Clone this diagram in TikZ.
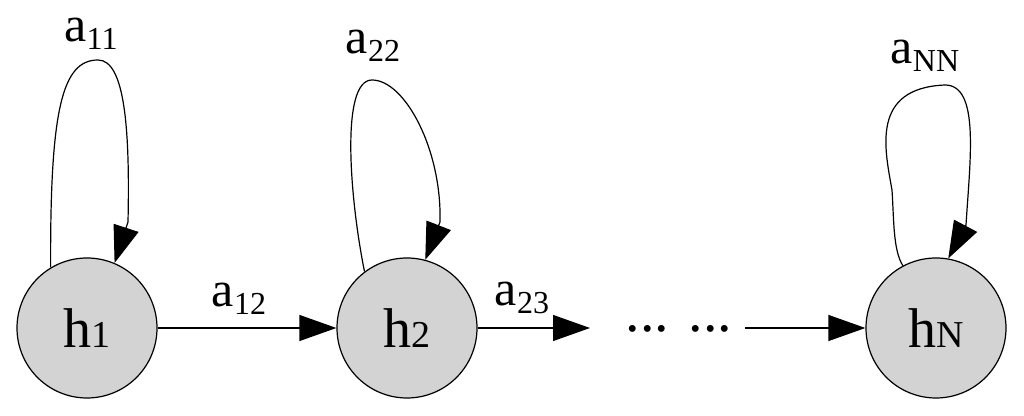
\documentclass[tikz,border=0pt]{standalone}
\usepackage{fontspec}
\setmainfont{Liberation Serif}
\usetikzlibrary{arrows.meta}
\definecolor{stateGray}{RGB}{211,211,211}
\tikzstyle{chain} = [x = .5pt, y = -.5pt]
\tikzstyle{stateStyle} = [circle, draw=black, fill=stateGray, line width=.6pt, minimum size=70pt, inner sep=0pt]
\tikzstyle{edgeStyle} = [line width=.6pt, -{Triangle[length=18.5pt, width=13pt]}]
\newcommand{\stateText}[2]{\fontsize{28}{28}\selectfont #1{\fontsize{19}{19}\selectfont #2}}
\newcommand{\probText}[2]{\fontsize{25}{25}\selectfont #1\raisebox{-4pt}{\fontsize{16}{16}\selectfont #2}}

\begin{document}
\begin{tikzpicture}[chain]
  \useasboundingbox (0,0) rectangle (1024,416);
  % states
  \node [stateStyle] (h1) at (87,328) {\stateText{h}{1}};
  \node [stateStyle] (h2) at (407,328) {\stateText{h}{2}};
  \node [stateStyle] (hN) at (936,328) {\stateText{h}{N}};
  % gap between h2 and hN
  \coordinate (dotsIn) at (590,328);
  \coordinate (dotsOut) at (745,328);
  \node [anchor=base] (dots) at (679,332) {\fontsize{29}{29}\selectfont ... ...};

  % transitions
  \draw [edgeStyle] (h1) -- (h2);
  \draw [edgeStyle] (h2) -- (dotsIn);
  \draw [edgeStyle] (dotsOut) -- (hN);

  % self loops
  \draw [edgeStyle] (h1.121) .. controls (50,110) and (62,60) .. (98,60)
    .. controls (125,60) and (130,130) .. (128,222) -- (h1.67);
  \draw [edgeStyle] (h2.127) .. controls (350,200) and (340,80) .. (372,80)
    .. controls (405,80) and (442,150) .. (440,222) -- (h2.75);
  \draw [edgeStyle] (hN.118) .. controls (893,250) and (894,220) .. (892,190)
    .. controls (885,150) and (870,88) .. (945,85)
    .. controls (980,85) and (970,160) .. (966,225) -- (hN.80);

  % probabilities
  \node (a11) at (91,34) {\probText{a}{11}};
  \node (a22) at (373,46) {\probText{a}{22}};
  \node (aNN) at (925,56) {\probText{a}{NN}};
  \node (a12) at (239,299) {\probText{a}{12}};
  \node (a23) at (522,298) {\probText{a}{23}};
\end{tikzpicture}
\end{document}
